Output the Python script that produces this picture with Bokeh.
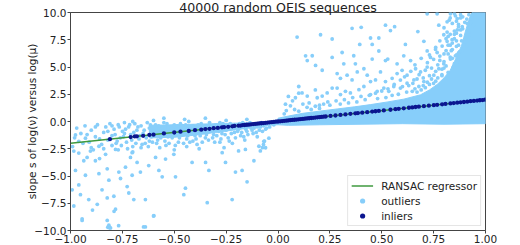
from bokeh.plotting import figure
from bokeh.models import Range1d, FixedTicker, Legend, LegendItem
from bokeh.embed import file_html
from bokeh.resources import INLINE

# ---------------- data ----------------
title_text = "40000 random OEIS sequences"
y_label = "slope s of log(\u03bd) versus log(\u03bc)"

x_ticks = [-1.0, -0.75, -0.5, -0.25, 0.0, 0.25, 0.5, 0.75, 1.0]
x_tick_labels = ["\u22121.00", "\u22120.75", "\u22120.50", "\u22120.25", "0.00", "0.25", "0.50", "0.75", "1.00"]
y_ticks = [-10.0, -7.5, -5.0, -2.5, 0.0, 2.5, 5.0, 7.5, 10.0]
y_tick_labels = ["\u221210.0", "\u22127.5", "\u22125.0", "\u22122.5", "0.0", "2.5", "5.0", "7.5", "10.0"]

# RANSAC fitted line end points
ransac_x = [-1.0, 1.0]
ransac_y = [-2.0, 2.0]

# sparse outliers, upper right
out_upper_x = [0.092, 0.205, 0.261, 0.357, 0.401, 0.518, 0.562, 0.542, 0.674, 0.775, 0.815, 0.719, 0.767, 0.831, 0.864,
               0.133, 0.165, 0.141, 0.181, 0.213, 0.261, 0.309, 0.317, 0.365, 0.373, 0.394, 0.446, 0.486, 0.454, 0.486,
               0.454, 0.518, 0.529, 0.574, 0.614, 0.606, 0.639, 0.663, 0.703, 0.719, 0.735, 0.759, 0.799, 0.791, 0.767,
               0.815, 0.839, 0.864, 0.888, 0.912,
               0.285, 0.301, 0.333, 0.357, 0.382, 0.414, 0.430, 0.446, 0.470, 0.494, 0.518, 0.550, 0.574, 0.598, 0.622,
               0.655, 0.687, 0.719, 0.751, 0.775, 0.799, 0.831, 0.855,
               0.100, 0.116, 0.141, 0.084, 0.036, 0.060, 0.189, 0.213, 0.237, 0.261, 0.285, 0.301, 0.325, 0.349, 0.390,
               0.414, 0.446, 0.478, 0.510, 0.534, 0.558, 0.590, 0.622, 0.647, 0.679, 0.703,
               0.07, 0.10, 0.15, 0.18, 0.20, 0.05,
               0.76, 0.78, 0.80, 0.82, 0.85, 0.87, 0.89, 0.74, 0.72, 0.79, 0.81, 0.84, 0.86, 0.90, 0.92, 0.70, 0.66,
               0.62, 0.58, 0.55, 0.52, 0.48, 0.42, 0.38, 0.34, 0.30, 0.25, 0.20, 0.16, 0.10,
               0.56, 0.59, 0.61, 0.63, 0.64, 0.66, 0.67, 0.68, 0.69, 0.70, 0.71, 0.72, 0.73, 0.73, 0.74, 0.75, 0.76,
               0.76, 0.77, 0.78, 0.78, 0.79, 0.80, 0.80, 0.81, 0.82, 0.82, 0.83, 0.83, 0.84, 0.85, 0.85, 0.86, 0.86,
               0.87, 0.87, 0.88, 0.88, 0.89, 0.89, 0.90, 0.91, 0.91, 0.92, 0.93, 0.93, 0.94, 0.60, 0.65, 0.53, 0.50,
               0.47, 0.44, 0.40, 0.36, 0.32, 0.28, 0.24, 0.22, 0.18, 0.14, 0.12, 0.08, 0.04, 0.03,
               0.82, 0.83, 0.84, 0.845, 0.85, 0.855, 0.86, 0.865, 0.87, 0.875, 0.88, 0.885, 0.83, 0.84, 0.85, 0.86,
               0.87, 0.88, 0.815, 0.825, 0.835, 0.80, 0.81, 0.79, 0.77, 0.75, 0.73, 0.71, 0.69, 0.67]
out_upper_y = [7.75, 7.96, 7.57, 8.55, 8.64, 8.84, 8.70, 8.34, 8.25, 8.84, 9.14, 9.88, 9.88, 9.88, 9.44,
               6.03, 6.03, 5.59, 5.14, 4.70, 5.88, 6.33, 5.29, 6.03, 5.29, 7.07, 7.66, 7.66, 7.07, 6.47,
               5.73, 5.59, 5.73, 5.29, 7.07, 6.03, 5.59, 4.84, 7.36, 6.47, 5.88, 6.62, 7.96, 6.92, 6.33,
               7.36, 7.51, 8.40, 8.70, 8.99,
               4.40, 3.96, 4.25, 3.81, 4.55, 4.84, 4.25, 3.66, 3.81, 4.55, 3.66, 3.96, 4.40, 4.70, 4.25,
               3.81, 4.55, 4.99, 4.25, 4.84, 5.29, 5.73, 6.03,
               3.21, 2.62, 2.33, 2.18, 1.59, 1.44, 2.18, 2.33, 2.62, 3.07, 3.07, 2.47, 2.77, 2.62, 2.92,
               3.21, 2.47, 2.77, 3.07, 2.77, 3.21, 3.07, 3.51, 2.77, 3.21, 3.66,
               1.9, 2.6, 1.7, 2.9, 1.5, 2.3,
               4.6, 5.6, 6.2, 7.0, 8.0, 8.9, 9.6, 3.9, 3.6, 4.3, 5.1, 6.6, 7.4, 9.1, 9.8, 3.3, 3.0,
               2.7, 2.5, 2.4, 2.2, 2.1, 2.0, 1.8, 1.7, 1.6, 1.5, 1.2, 1.1, 0.95,
               3.4, 3.8, 4.1, 3.3, 4.6, 5.2, 3.9, 4.3, 5.8, 4.0, 4.7, 5.4, 6.1, 4.2, 4.9, 5.7, 6.8,
               3.7, 5.2, 6.0, 7.4, 4.8, 5.5, 8.6, 6.5, 4.5, 7.8, 5.9, 9.5, 7.2, 5.3, 8.3, 6.1, 9.2,
               7.0, 5.7, 7.9, 9.8, 6.6, 8.5, 7.3, 9.4, 6.9, 8.2, 7.6, 9.1, 8.8, 3.2, 3.5, 3.0, 2.8,
               2.6, 2.4, 2.3, 2.2, 2.0, 1.9, 1.8, 1.6, 1.4, 1.3, 1.6, 1.1, 1.0, 0.7,
               6.2, 8.0, 9.0, 5.0, 7.6, 9.7, 6.9, 5.5, 8.7, 6.4, 9.5, 7.4, 7.0, 5.8, 9.9, 8.1,
               6.3, 8.4, 8.2, 9.3, 6.5, 4.9, 7.6, 4.2, 4.0, 3.5, 3.4, 3.1, 2.9, 2.7]

# sparse outliers, lower left
out_lower_x = [-0.984, -0.976, -0.992, -0.984, -0.960, -0.952, -0.936, -0.928, -0.912, -0.944, -0.880, -0.863, -0.848,
               -0.871, -0.831, -0.823, -0.815, -0.823, -0.791, -0.783, -0.815, -0.807, -0.767, -0.759, -0.727, -0.719,
               -0.735, -0.711, -0.679, -0.663, -0.703, -0.639, -0.695, -0.598, -0.639, -0.623, -0.574, -0.558, -0.494,
               -0.446, -0.454, -0.414, -0.349, -0.333, -0.341, -0.269, -0.253, -0.221, -0.205, -0.173, -0.157, -0.149,
               -0.116, -0.092, -0.068, -0.044, -0.060, -0.502, -0.542, -0.590, -0.703, -0.783, -0.904, -0.863, -0.928,
               -0.960, -0.976,
               -0.944, -0.823, -0.820, -0.812, -0.768, -0.600, -0.648, -0.894, -0.790,
               -0.075, -0.070, -0.065, -0.085]
out_lower_y = [-2.71, -4.49, -6.27, -7.75, -5.82, -6.71, -3.60, -4.93, -7.16, -9.08, -3.60, -4.79, -6.27,
               -7.60, -3.01, -4.34, -5.38, -7.01, -6.86, -8.04, -9.52, -9.76, -4.64, -5.23, -5.97, -6.56,
               -4.19, -3.30, -3.75, -4.64, -4.93, -7.16, -7.16, -8.64, -9.67, -4.04, -4.49, -5.08, -5.08,
               -6.12, -6.71, -3.75, -3.75, -4.49, -7.45, -2.86, -3.75, -7.16, -4.64, -4.49, -2.56, -5.53,
               -3.60, -2.27, -1.82, -1.53, -2.41, -3.01, -3.45, -3.30, -2.86, -2.56, -2.71, -2.27, -1.53,
               -1.82, -1.23,
               -8.93, -9.08, -9.70, -9.75, -9.56, -8.67, -9.67, -8.13, -8.24,
               -2.4, -2.1, -1.8, -2.7]

# outliers in the band on the left half
out_band_x = [-0.97, -0.95, -0.93, -0.91, -0.90, -0.88, -0.87, -0.85, -0.84, -0.83, -0.82, -0.81, -0.99, -0.96, -0.92,
              -0.89, -0.86, -0.80,
              -0.79, -0.78, -0.77, -0.76, -0.75, -0.74, -0.73, -0.72, -0.71, -0.70, -0.69, -0.68, -0.67, -0.66, -0.65,
              -0.64, -0.63, -0.62, -0.61, -0.60, -0.77, -0.70, -0.66, -0.74, -0.62,
              -0.59, -0.58, -0.57, -0.56, -0.55, -0.54, -0.53, -0.52, -0.51, -0.50, -0.49, -0.48, -0.47, -0.46, -0.45,
              -0.44, -0.43, -0.42, -0.41, -0.40, -0.39, -0.38, -0.37, -0.36, -0.35, -0.34, -0.33, -0.32, -0.31, -0.30,
              -0.57, -0.50, -0.44, -0.38, -0.53, -0.47, -0.41,
              -0.29, -0.28, -0.27, -0.26, -0.25, -0.24, -0.23, -0.22, -0.21, -0.20, -0.19, -0.18, -0.17, -0.16, -0.15,
              -0.14, -0.13, -0.12, -0.11, -0.10, -0.09, -0.08, -0.07, -0.06, -0.05, -0.04, -0.03, -0.02, -0.01,
              -0.28, -0.22, -0.16, -0.10, -0.26, -0.19,
              -0.98, -0.94, -0.92, -0.90, -0.88, -0.86, -0.84, -0.82, -0.80, -0.80,
              -0.785, -0.775, -0.765, -0.755, -0.745, -0.735, -0.725, -0.715, -0.705, -0.695, -0.685, -0.675, -0.665,
              -0.655, -0.645, -0.635, -0.625, -0.615, -0.605,
              -0.595, -0.585, -0.575, -0.565, -0.555, -0.545, -0.535, -0.525, -0.515, -0.505, -0.495, -0.485, -0.475,
              -0.465, -0.455, -0.445, -0.435, -0.425, -0.415, -0.405, -0.395, -0.385, -0.375, -0.365, -0.355, -0.345,
              -0.335, -0.325, -0.315, -0.305,
              -0.295, -0.285, -0.275, -0.265, -0.255, -0.245, -0.235, -0.225, -0.215, -0.205, -0.195, -0.185, -0.175,
              -0.165, -0.155, -0.145, -0.135, -0.125, -0.115, -0.105, -0.095, -0.085, -0.075, -0.065, -0.055,
              -0.45, -0.35, -0.25, -0.60, -0.70, -0.15, -0.55]
out_band_y = [-0.6, -1.1, -0.4, -1.9, -0.8, -1.4, -0.3, -2.1, -1.0, -0.5, -1.7, -0.2, -2.3, -2.9, -3.3,
              -2.6, -3.4, -1.3,
              -0.7, -2.0, -0.3, -1.5, -0.9, -0.1, -1.9, -0.5, -1.2, -2.3, -0.2, -0.8, -1.6, -0.4, -1.1,
              -2.0, -0.1, -0.6, -1.4, -0.9, -2.6, -2.8, -2.4, -1.1, -1.8,
              -0.3, -1.7, -0.7, -1.2, -0.1, -2.2, -0.5, -1.0, -1.5, -0.3, -0.8, -1.9, -0.2, -1.2, -0.6,
              -1.6, 0.0, -0.9, -0.4, -1.3, -2.1, -0.7, -0.2, -1.0, -1.5, -0.5, -0.1, -0.8, -1.2, -0.3,
              -2.4, -2.6, -2.3, -2.5, -1.4, -1.1, -1.8,
              -0.6, -0.1, -1.1, -0.4, -0.8, -1.5, -0.2, -0.6, -1.0, -0.3, -0.7, -1.3, -0.1, -0.5, -0.9,
              -0.3, -0.6, -1.1, -0.2, -0.5, -0.8, -0.1, -0.4, -0.7, -0.2, -0.5, -0.1, -0.3, 0.0,
              -1.9, -2.0, -1.7, -1.4, -2.4, -2.7,
              -1.5, -2.0, -1.2, -2.4, -0.5, -1.6, -2.5, -0.9, -2.2, -0.4,
              -1.2, -1.8, -0.5, -2.2, -1.4, -0.7, -2.5, -0.3, -1.7, -1.0, -2.0, -0.5, -1.3,
              -2.1, -0.8, -1.5, -2.3, -0.3, -1.9,
              -1.1, -2.0, -0.4, -1.5, -0.9, -1.8, -0.2, -2.0, -0.6, -1.3, -2.2, -0.4, -1.5,
              -0.9, -2.0, -0.3, -1.3, -1.9, -0.6, -1.0, -1.6, -0.3, -1.3, -1.9, -0.6, -1.2,
              -1.7, -0.4, -1.5, -1.9,
              -1.3, -0.9, -1.6, -0.2, -1.2, -0.6, -1.8, -1.1, -0.4, -1.5, -0.9, -0.2, -1.0,
              -1.4, -0.7, -1.2, -0.1, -0.8, -0.6, -1.0, -0.3, -0.5, -0.9, -0.3, -0.6,
              0.2, 0.3, 0.1, 0.1, 0.0, 0.2, 0.3]

# outlines of the regions where outliers overlap into a solid mass
dense_right_x = [0.0, 0.05, 0.12, 0.2, 0.285, 0.37, 0.446, 0.53, 0.606, 0.687, 0.73, 0.767, 0.80, 0.83, 0.85, 0.87,
                 0.885, 0.895, 0.905, 0.915, 0.925, 0.935, 1.0, 1.0, 0.8, 0.6, 0.4, 0.2, 0.05, 0.0]
dense_right_y = [0.3, 0.5, 0.75, 0.95, 1.15, 1.35, 1.55, 1.8, 2.05, 2.45, 2.9, 3.4, 4.0, 4.7, 5.5, 6.3,
                 7.0, 7.7, 8.4, 9.0, 9.6, 10.0, 10.0, -0.2, -0.25, -0.2, -0.25, -0.3, -0.35, -0.3]
dense_left_x = [-0.62, -0.5, -0.4, -0.3, -0.2, -0.1, -0.03, 0.0, 0.0, -0.05, -0.1, -0.2, -0.3, -0.4, -0.5, -0.62]
dense_left_y = [-0.35, -0.3, -0.25, -0.2, -0.15, -0.1, -0.05, 0.1, -0.3, -0.35, -0.5, -0.75, -1.0, -1.25, -1.45, -1.5]

# inliers (on the fitted line)
in_x = [-0.81, -0.71, -0.69, -0.68, -0.65, -0.62, -0.60, -0.55, -0.50, -0.47, -0.43, -0.40, -0.37, -0.35, -0.33,
        -0.31, -0.29, -0.27, -0.26, -0.24, -0.22, -0.21, -0.19, -0.18, -0.17, -0.16, -0.15, -0.14, -0.13, -0.12,
        -0.11, -0.10, -0.09, -0.08, -0.07, -0.06, -0.05, -0.04, -0.03, -0.02, -0.01, 0.00, 0.01, 0.02, 0.03,
        0.04, 0.05, 0.06, 0.07, 0.08, 0.09, 0.10, 0.11, 0.12, 0.13, 0.14, 0.15, 0.16, 0.17, 0.18, 0.19, 0.20,
        0.21, 0.22, 0.23, 0.253, 0.277, 0.301, 0.325, 0.349, 0.373, 0.385, 0.406, 0.430, 0.454, 0.470, 0.486,
        0.510, 0.542, 0.566, 0.582, 0.606, 0.631, 0.647, 0.663, 0.679, 0.703, 0.727, 0.751, 0.767, 0.791, 0.807,
        0.831, 0.847, 0.864, 0.880, 0.896, 0.912, 0.928, 0.944, 0.960, 0.973, 0.986, 0.998]
in_y = [-1.62, -1.43, -1.37, -1.36, -1.31, -1.23, -1.21, -1.09, -1.01, -0.93, -0.87, -0.80, -0.75, -0.69, -0.67,
        -0.61, -0.59, -0.53, -0.52, -0.49, -0.44, -0.41, -0.38, -0.37, -0.33, -0.32, -0.30, -0.29, -0.26, -0.24,
        -0.22, -0.20, -0.18, -0.16, -0.14, -0.12, -0.10, -0.08, -0.06, -0.04, -0.02, 0.00, 0.02, 0.04, 0.06,
        0.08, 0.10, 0.12, 0.14, 0.16, 0.18, 0.20, 0.22, 0.24, 0.26, 0.28, 0.30, 0.32, 0.34, 0.36, 0.38, 0.40,
        0.42, 0.44, 0.46, 0.51, 0.55, 0.60, 0.65, 0.70, 0.75, 0.77, 0.81, 0.86, 0.91, 0.94, 0.97,
        1.02, 1.08, 1.13, 1.16, 1.21, 1.26, 1.29, 1.33, 1.36, 1.41, 1.45, 1.50, 1.53, 1.58, 1.61,
        1.66, 1.69, 1.73, 1.76, 1.79, 1.82, 1.86, 1.89, 1.92, 1.95, 1.97, 2.00]

# ---------------- styling ----------------
FONT = "DejaVu Sans"
OUT_C = "#87cefa"
IN_C = "#0b1690"
LINE_C = "#3f9a3f"
AX_C = "#444444"
TXT_C = "#222222"

p = figure(width=520, height=245, x_range=Range1d(-1, 1), y_range=Range1d(-10, 10),
           output_backend="svg", toolbar_location=None, title=title_text,
           min_border_left=70, min_border_right=35, min_border_top=0, min_border_bottom=0)
p.title.align = "center"
p.title.text_font = FONT
p.title.text_font_size = "12.6px"
p.title.text_font_style = "normal"
p.title.text_color = TXT_C
p.title.standoff = -5
p.title.offset = 0
p.xgrid.visible = False
p.ygrid.visible = False
p.outline_line_color = AX_C
p.outline_line_width = 1
p.background_fill_color = "white"
p.border_fill_color = "white"

# dense outlier masses
p.patch(dense_right_x, dense_right_y, fill_color=OUT_C, line_color=OUT_C, line_width=1)
p.patch(dense_left_x, dense_left_y, fill_color=OUT_C, line_color=OUT_C, line_width=1)
out_all_x = out_upper_x + out_lower_x + out_band_x
out_all_y = out_upper_y + out_lower_y + out_band_y
r_out = p.scatter(out_all_x, out_all_y, size=3.8, marker="circle", fill_color=OUT_C, line_color=None)
r_line = p.line(ransac_x, ransac_y, line_color=LINE_C, line_width=1.5)
r_in = p.scatter(in_x, in_y, size=4.3, marker="circle", fill_color=IN_C, line_color=None)

# axes
for ax in (p.xaxis[0], p.yaxis[0]):
    ax.axis_line_color = AX_C
    ax.major_tick_line_color = AX_C
    ax.major_tick_out = 3
    ax.major_tick_in = 0
    ax.minor_tick_out = 0
    ax.minor_tick_in = 0
    ax.major_label_text_font = FONT
    ax.major_label_text_font_size = "10.5px"
    ax.major_label_text_color = TXT_C
p.xaxis.major_label_standoff = 1
p.yaxis.major_label_standoff = 1

p.xaxis.ticker = FixedTicker(ticks=x_ticks)
p.xaxis.major_label_overrides = {t: s for t, s in zip(x_ticks, x_tick_labels)}
p.yaxis.ticker = FixedTicker(ticks=y_ticks)
p.yaxis.major_label_overrides = {t: s for t, s in zip(y_ticks, y_tick_labels)}
p.yaxis.axis_label = y_label
p.yaxis.axis_label_text_font = FONT
p.yaxis.axis_label_text_font_size = "10.5px"
p.yaxis.axis_label_text_font_style = "normal"
p.yaxis.axis_label_text_color = TXT_C
p.yaxis.axis_label_standoff = -7

legend = Legend(items=[LegendItem(label="RANSAC regressor", renderers=[r_line]),
                       LegendItem(label="outliers", renderers=[r_out]),
                       LegendItem(label="inliers", renderers=[r_in])],
                location="bottom_right")
legend.label_text_font = FONT
legend.label_text_font_size = "10.5px"
legend.label_text_color = TXT_C
legend.glyph_width = 22
legend.glyph_height = 13
legend.label_height = 13
legend.label_standoff = 8
legend.spacing = 2
legend.padding = 3
legend.margin = 4
legend.border_line_color = "#cccccc"
legend.border_line_width = 1
legend.background_fill_alpha = 0.8
p.add_layout(legend)

open("out.html", "w").write(file_html(p, INLINE))
